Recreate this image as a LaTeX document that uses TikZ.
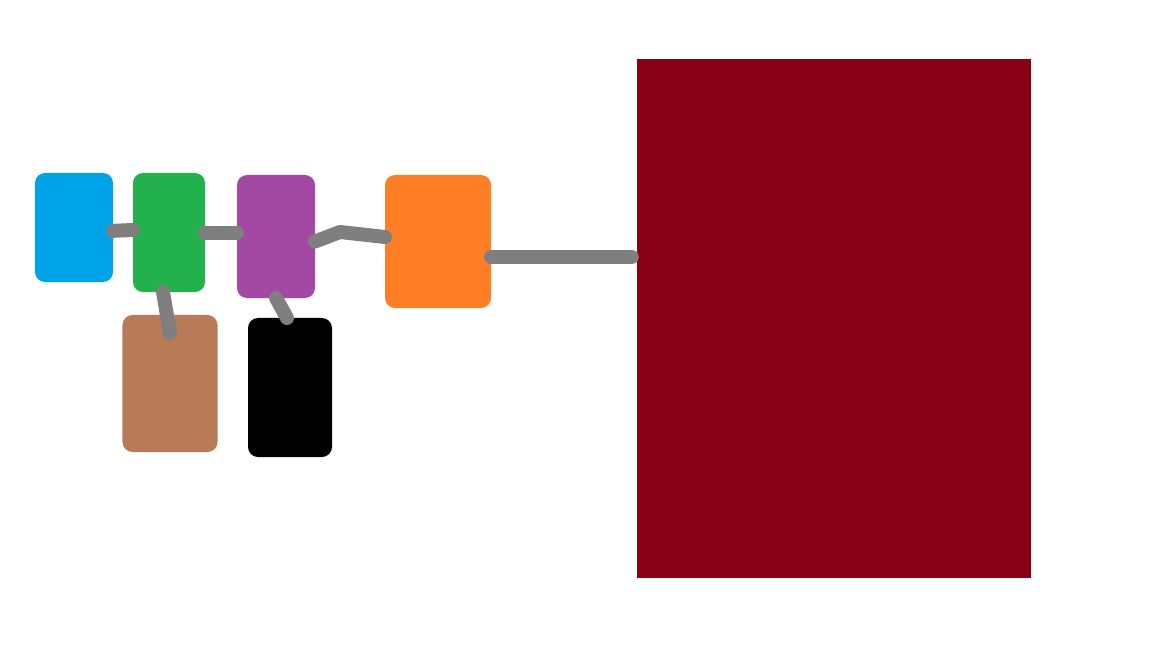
\documentclass[tikz,border=0pt]{standalone}
\usepackage{tikz}
\usetikzlibrary{calc}
\definecolor{pblue}{HTML}{00A2E8}
\definecolor{pgreen}{HTML}{22B14C}
\definecolor{ppurple}{HTML}{A349A4}
\definecolor{porange}{HTML}{FF7F27}
\definecolor{pbrown}{HTML}{B97A57}
\definecolor{pred}{HTML}{880015}
\definecolor{pgray}{HTML}{7F7F7F}
\begin{document}
\begin{tikzpicture}[x=0.03cm,y=-0.03cm]
      \tikzset{blob/.style={inner sep=0pt,
          outer sep=0pt,
          rounded corners=0.3cm,
          fill=#1},
        link/.style={line width=0.42cm,
          line cap=round,
          line join=round,
          pgray}
      }
      \useasboundingbox (0,0) rectangle (1152,648);
      \node [blob=pblue,minimum width=2.34cm,minimum height=3.27cm] (blue) at (74,227.5) {};
      \node [blob=pgreen,minimum width=2.16cm,minimum height=3.57cm] (green) at (169,232.5) {};
      \node [blob=ppurple,minimum width=2.34cm,minimum height=3.69cm] (purple) at (276,236.5) {};
      \node [blob=porange,minimum width=3.18cm,minimum height=3.99cm] (orange) at (438,241.5) {};
      \node [blob=pbrown,minimum width=2.85cm,minimum height=4.11cm] (brown) at (170,383.5) {};
      \node [blob=black,minimum width=2.52cm,minimum height=4.17cm] (black) at (290,387.5) {};
      \node [fill=pred,inner sep=0pt,minimum width=11.82cm,minimum height=15.57cm] (red) at (834,318.5) {};

      \coordinate (bend1) at (340,232);
      \coordinate (bend2) at (570,257);
      \draw [link] ([yshift=-0.1cm]blue.east) -- ([yshift=0.075cm]green.west);
      \draw [link] (green.east) -- ([yshift=0.12cm]purple.west);
      \draw [link] ([yshift=-0.15cm]purple.east) -- (bend1) -- ([yshift=-0.15cm]orange.west |- bend1);
      \draw [link] (orange.east |- bend2) -- (bend2) -- ([xshift=-0.15cm]red.west |- bend2);
      \draw [link] ([xshift=-0.18cm]green.south) -- ([yshift=-0.54cm]brown.north);
      \draw [link] (purple.south) -- ([xshift=-0.09cm]black.north);
    \end{tikzpicture}
\end{document}
